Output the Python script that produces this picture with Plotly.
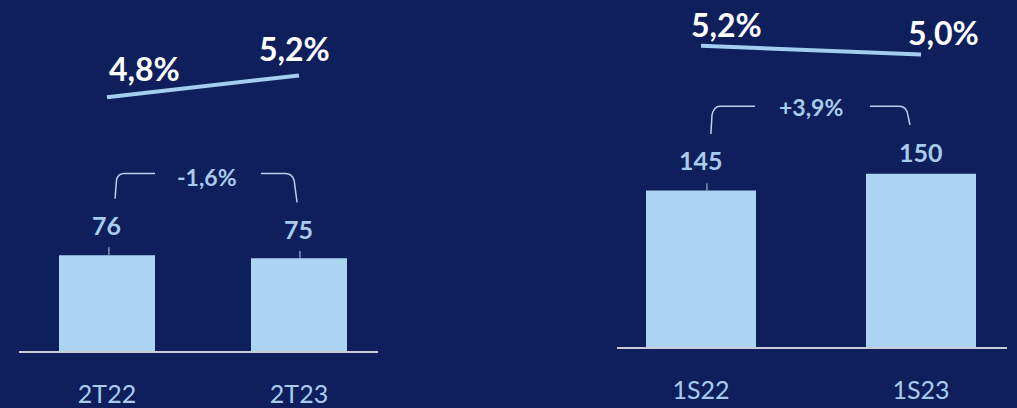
import plotly.graph_objects as go

# ---- data ----
cats_q = ["2T22", "2T23"]
vals_q = [76, 75]
pct_q = [4.8, 5.2]
pct_q_txt = ["4,8%", "5,2%"]
chg_q = "-1,6%"

cats_s = ["1S22", "1S23"]
vals_s = [145, 150]
pct_s = [5.2, 5.0]
pct_s_txt = ["5,2%", "5,0%"]
chg_s = "+3,9%"

# ---- style ----
BG = "#0E1F5B"
BAR = "#ADD3F3"
LBL = "#A9CBEE"
LINE = "#A5CDF1"
BRK = "#B7D3EF"
AXIS = "#C9CDD6"
FONT = "Lato"

xq = list(range(len(cats_q)))
xs = list(range(len(cats_s)))

fig = go.Figure()

# bars
fig.add_trace(go.Bar(x=xq, y=vals_q, width=0.5, marker=dict(color=BAR, line=dict(width=0)),
                     xaxis="x", yaxis="y", hoverinfo="skip"))
fig.add_trace(go.Bar(x=xs, y=vals_s, width=0.5, marker=dict(color=BAR, line=dict(width=0)),
                     xaxis="x2", yaxis="y2", hoverinfo="skip"))
# percent lines
fig.add_trace(go.Scatter(x=xq, y=pct_q, mode="lines", line=dict(color=LINE, width=4),
                         xaxis="x", yaxis="y3", hoverinfo="skip"))
fig.add_trace(go.Scatter(x=xs, y=pct_s, mode="lines", line=dict(color=LINE, width=4),
                         xaxis="x2", yaxis="y4", hoverinfo="skip"))

ann = []
# bar value labels
val_shift_q = [30, 29]
val_shift_s = [30, 22]
for i, v in enumerate(vals_q):
    ann.append(dict(x=xq[i], y=v, xref="x", yref="y", text=str(v), showarrow=False,
                    yanchor="middle", yshift=val_shift_q[i],
                    font=dict(family=FONT, size=25, color=LBL, weight="bold")))
for i, v in enumerate(vals_s):
    ann.append(dict(x=xs[i], y=v, xref="x2", yref="y2", text=str(v), showarrow=False,
                    yanchor="middle", yshift=val_shift_s[i],
                    font=dict(family=FONT, size=25, color=LBL, weight="bold")))
# percent labels
pq_shift = [(38, 29), (-4, 27)]
ps_shift = [(25, 21), (22, 22)]
for i, p in enumerate(pct_q):
    ann.append(dict(x=xq[i], y=p, xref="x", yref="y3", text=pct_q_txt[i], showarrow=False,
                    yanchor="middle", xshift=pq_shift[i][0], yshift=pq_shift[i][1],
                    font=dict(family=FONT, size=32, color="white", weight="bold")))
for i, p in enumerate(pct_s):
    ann.append(dict(x=xs[i], y=p, xref="x2", yref="y4", text=pct_s_txt[i], showarrow=False,
                    yanchor="middle", xshift=ps_shift[i][0], yshift=ps_shift[i][1],
                    font=dict(family=FONT, size=32, color="white", weight="bold")))
# change labels
ann.append(dict(x=0.52, y=102.4, xref="x", yref="y", text=chg_q, showarrow=False,
                yanchor="middle", font=dict(family=FONT, size=23, color=LBL, weight="bold")))
ann.append(dict(x=0.5, y=169.8, xref="x2", yref="y2", text=chg_s, showarrow=False,
                yanchor="middle", font=dict(family=FONT, size=23, color=LBL, weight="bold")))

shapes = []
# brackets (left panel)
shapes.append(dict(type="path", xref="x", yref="y", line=dict(color=BRK, width=1.5),
                   path="M 0.042,95.0 L 0.05,101.5 Q 0.06,103.4 0.09,103.4 L 0.25,103.4"))
shapes.append(dict(type="path", xref="x", yref="y", line=dict(color=BRK, width=1.5),
                   path="M 0.802,103.4 L 0.93,103.4 Q 0.965,103.4 0.975,101 L 0.99,93.7"))
# brackets (right panel)
shapes.append(dict(type="path", xref="x2", yref="y2", line=dict(color=BRK, width=1.5),
                   path="M 0.045,161.8 L 0.05,167.5 Q 0.06,170.1 0.085,170.1 L 0.245,170.1"))
shapes.append(dict(type="path", xref="x2", yref="y2", line=dict(color=BRK, width=1.5),
                   path="M 0.768,170.1 L 0.9,170.1 Q 0.935,170.1 0.94,167.5 L 0.95,164.5"))
# leader ticks from labels to bars
shapes.append(dict(type="line", xref="x", yref="y", x0=0.01, x1=0.01,
                   y0=vals_q[0], y1=vals_q[0] + 2.7, line=dict(color=BRK, width=1)))
shapes.append(dict(type="line", xref="x", yref="y", x0=1.005, x1=1.005,
                   y0=vals_q[1], y1=vals_q[1] + 2.4, line=dict(color=BRK, width=1)))
shapes.append(dict(type="line", xref="x2", yref="y2", x0=0.027, x1=0.027,
                   y0=vals_s[0], y1=vals_s[0] + 2.1, line=dict(color=BRK, width=1)))

xaxis_common = dict(showgrid=False, zeroline=False, showline=True, linecolor=AXIS, linewidth=2,
                    ticks="outside", ticklen=20, tickcolor="rgba(0,0,0,0)",
                    tickfont=dict(family=FONT, size=25, color=LBL), fixedrange=True)
yaxis_common = dict(showgrid=False, zeroline=False, showline=False, showticklabels=False,
                    ticks="", fixedrange=True)

fig.update_layout(
    width=1017, height=408,
    margin=dict(l=0, r=0, t=0, b=0),
    paper_bgcolor=BG, plot_bgcolor=BG,
    showlegend=False,
    xaxis=dict(domain=[19 / 1017, 378 / 1017], range=[-0.4583, 1.4115], anchor="y",
               tickvals=xq, ticktext=cats_q, **xaxis_common),
    xaxis2=dict(domain=[617 / 1017, 1007 / 1017], range=[-0.3818, 1.3909], anchor="y2",
                tickvals=xs, ticktext=cats_s, **xaxis_common),
    yaxis=dict(domain=[54 / 408, 1], range=[43.7, 161.7], anchor="x", **yaxis_common),
    yaxis2=dict(domain=[58 / 408, 1], range=[98.2, 201.75], anchor="x2", **yaxis_common),
    yaxis3=dict(overlaying="y", range=[0.1455, 6.5818], anchor="x", **yaxis_common),
    yaxis4=dict(overlaying="y2", range=[-1.5556, 6.2222], anchor="x2", **yaxis_common),
    annotations=ann,
    shapes=shapes,
)

fig.write_html(
    "out.html",
    config={"displayModeBar": False, "staticPlot": True},
    post_script="document.body.style.margin='0';document.body.style.overflow='hidden';"
                "document.body.style.background='" + BG + "';",
)
